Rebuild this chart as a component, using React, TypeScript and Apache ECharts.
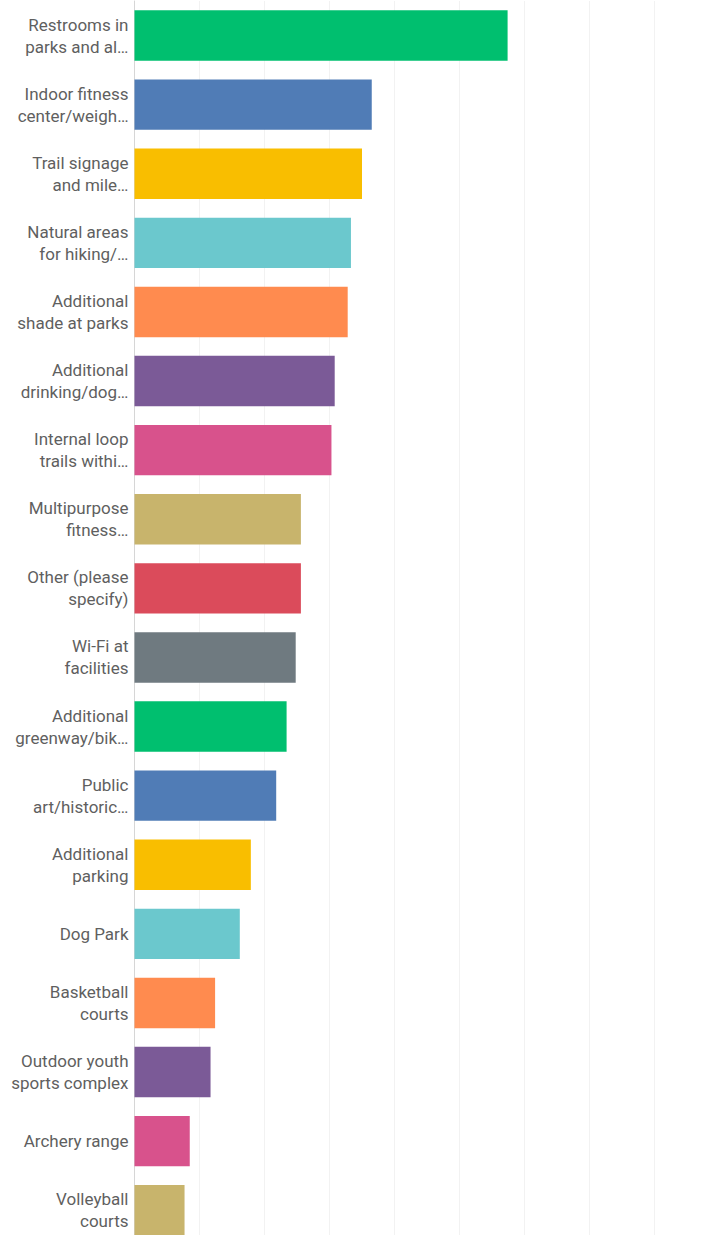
import React, { useEffect, useRef } from "react";
import * as echarts from "echarts";

const categories = [
  "Restrooms in\nparks and al…",
  "Indoor fitness\ncenter/weigh…",
  "Trail signage\nand mile…",
  "Natural areas\nfor hiking/…",
  "Additional\nshade at parks",
  "Additional\ndrinking/dog…",
  "Internal loop\ntrails withi…",
  "Multipurpose\nfitness…",
  "Other (please\nspecify)",
  "Wi-Fi at\nfacilities",
  "Additional\ngreenway/bik…",
  "Public\nart/historic…",
  "Additional\nparking",
  "Dog Park",
  "Basketball\ncourts",
  "Outdoor youth\nsports complex",
  "Archery range",
  "Volleyball\ncourts",
];

const values = [
  57.4, 36.5, 35.0, 33.3, 32.8, 30.8, 30.3, 25.6, 25.6, 24.8, 23.4, 21.8, 17.9,
  16.2, 12.4, 11.7, 8.5, 7.7,
];

const colors = [
  "#00BF6F",
  "#507CB6",
  "#F9BE00",
  "#6BC8CD",
  "#FF8B4F",
  "#7B5A97",
  "#D8528C",
  "#C8B46C",
  "#DB4B5B",
  "#6F7A80",
  "#00BF6F",
  "#507CB6",
  "#F9BE00",
  "#6BC8CD",
  "#FF8B4F",
  "#7B5A97",
  "#D8528C",
  "#C8B46C",
];

export default function App() {
  const ref = useRef<HTMLDivElement>(null);

  useEffect(() => {
    if (!ref.current) return;
    const chart = echarts.init(ref.current, undefined, { renderer: "svg" });
    chart.setOption({
      animation: false,
      grid: { left: 134.5, right: 56.5, top: 1, bottom: 1.2, containLabel: false },
      xAxis: {
        type: "value",
        min: 0,
        max: 80,
        interval: 10,
        axisLabel: { show: false },
        axisLine: { show: false },
        axisTick: { show: false },
        splitLine: { show: true, lineStyle: { color: "#f2f2f2", width: 1 } },
      },
      yAxis: {
        type: "category",
        inverse: true,
        data: categories,
        axisLine: { show: true, lineStyle: { color: "#d6d6d6", width: 1 } },
        axisTick: { show: false },
        axisLabel: {
          margin: 6,
          color: "#5f5f5f",
          fontFamily: "Roboto",
          fontSize: 17,
          lineHeight: 22,
          align: "right",
          padding: [6, 0, 0, 0],
        },
      },
      series: [
        {
          type: "bar",
          barCategoryGap: "27%",
          data: values.map((v, i) => ({ value: v, itemStyle: { color: colors[i] } })),
          itemStyle: { borderRadius: 0 },
        },
      ],
    });
    return () => chart.dispose();
  }, []);

  return (
    <div
      style={{
        position: "fixed",
        left: 0,
        top: 0,
        width: 711,
        height: 1235,
        overflow: "hidden",
        background: "#ffffff",
      }}
    >
      <div ref={ref} style={{ width: 711, height: 1246 }} />
    </div>
  );
}
